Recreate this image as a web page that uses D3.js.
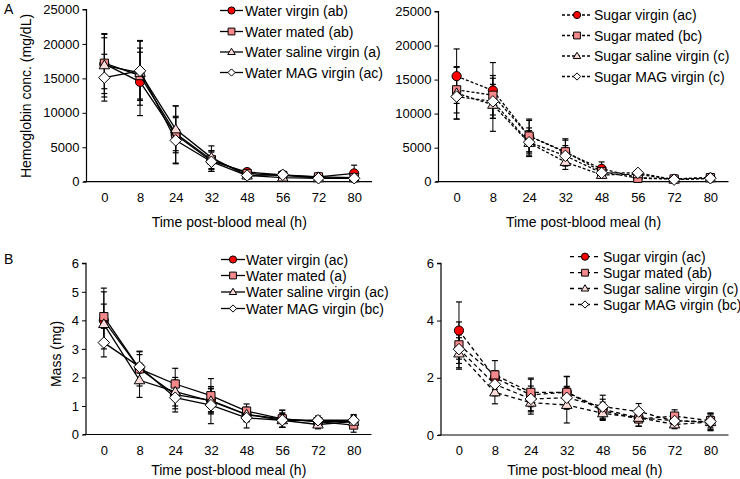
<!DOCTYPE html>
<html><head><meta charset="utf-8">
<script src="https://cdn.jsdelivr.net/npm/d3@7"></script>
<style>
body{margin:0;background:#fff;}
text{font-family:"Liberation Sans",Arial,sans-serif;fill:#000;}
</style></head>
<body><svg id="c" width="740" height="479"></svg>
<script>
// ---------- data ----------
const times = ["0","8","24","32","48","56","72","80"];
const hbTicks = [0,5000,10000,15000,20000,25000];
const massTicksLeft = [0,1,2,3,4,5,6];
const massTicksRight = [0,2,4,6];

const waterNames = ["Water virgin (ab)","Water mated (ab)","Water saline virgin (a)","Water MAG virgin (ac)"];
const sugarNames = ["Sugar virgin (ac)","Sugar mated (bc)","Sugar saline virgin (c)","Sugar MAG virgin (c)"];
const waterMassNames = ["Water virgin (ac)","Water mated (a)","Water saline virgin (ac)","Water MAG virgin (bc)"];
const sugarMassNames = ["Sugar virgin (ac)","Sugar mated (ab)","Sugar saline virgin (c)","Sugar MAG virgin (bc)"];

// Hemoglobin, water
const hbWaterVirgin    = [17100,14500,6800,3000,1400,1000,700,1200];
const hbWaterVirginErr = [4300,4900,4200,1500,400,300,300,1200];
const hbWaterMated     = [17200,15400,7000,3200,1200,900,700,600];
const hbWaterMatedErr  = [3700,3400,2500,1300,400,300,200,300];
const hbWaterSaline    = [16900,15800,7600,3500,900,600,500,500];
const hbWaterSalineErr = [4600,4700,3400,1700,500,300,200,300];
const hbWaterMAG       = [15100,16100,6000,2900,900,1000,500,500];
const hbWaterMAGErr    = [3400,4300,3300,1400,400,300,200,300];
// Hemoglobin, sugar
const hbSugarVirgin    = [15500,13400,6700,4300,1900,600,400,600];
const hbSugarVirginErr = [4000,4100,2500,1800,1000,300,200,300];
const hbSugarMated     = [13500,12700,6700,4400,1500,500,400,600];
const hbSugarMatedErr  = [3400,2900,2300,1900,600,300,200,300];
const hbSugarSaline    = [13000,11300,5700,2900,1000,1100,300,500];
const hbSugarSalineErr = [3800,3900,1800,1100,400,300,200,300];
const hbSugarMAG       = [12500,11800,5800,3800,1300,1300,300,500];
const hbSugarMAGErr    = [3300,2500,2100,1500,500,300,200,300];
// Mass, water
const mWaterVirgin    = [4.0,2.3,1.4,1.2,0.7,0.55,0.45,0.45];
const mWaterVirginErr = [1.0,0.5,0.5,0.4,0.25,0.3,0.15,0.2];
const mWaterMated     = [4.13,2.3,1.77,1.36,0.82,0.55,0.45,0.33];
const mWaterMatedErr  = [1.0,0.6,0.55,0.6,0.25,0.3,0.15,0.25];
const mWaterSaline    = [3.87,1.9,1.5,1.17,0.7,0.5,0.35,0.45];
const mWaterSalineErr = [0.7,0.6,0.5,0.45,0.25,0.25,0.15,0.2];
const mWaterMAG       = [3.22,2.37,1.29,1.03,0.58,0.5,0.5,0.5];
const mWaterMAGErr    = [0.5,0.55,0.5,0.65,0.35,0.25,0.15,0.2];
// Mass, sugar
const mSugarVirgin    = [3.65,2.0,1.4,1.5,0.9,0.6,0.5,0.45];
const mSugarVirginErr = [1.0,0.25,0.55,0.55,0.35,0.3,0.2,0.3];
const mSugarMated     = [3.15,2.1,1.49,1.49,0.85,0.56,0.66,0.5];
const mSugarMatedErr  = [0.8,0.5,0.5,0.55,0.3,0.25,0.22,0.25];
const mSugarSaline    = [2.85,1.49,1.13,1.05,0.76,0.6,0.37,0.45];
const mSugarSalineErr = [0.55,0.4,0.4,0.63,0.25,0.3,0.15,0.25];
const mSugarMAG       = [3.0,1.77,1.26,1.3,0.99,0.82,0.49,0.47];
const mSugarMAGErr    = [0.5,0.4,0.45,0.4,0.4,0.28,0.15,0.3];

const shapes = ["circle","square","triangle","diamond"];
const fills = ["#ff0000","#f4888a","#fbdada","#ffffff"];

// ---------- drawing ----------
const svg = d3.select("#c");

function shapePath(shape, s){
  if(shape==="circle"){ const p=d3.path(); p.arc(0,0,s,0,2*Math.PI); p.closePath(); return p.toString(); }
  if(shape==="square"){ return `M${-s},${-s}H${s}V${s}H${-s}Z`; }
  if(shape==="triangle"){ const h=s*1.75; return `M0,${-h*0.6}L${s*1.05},${h*0.4}L${-s*1.05},${h*0.4}Z`; }
  return `M0,${-s*1.25}L${s*1.25},0L0,${s*1.25}L${-s*1.25},0Z`;
}
const plotSize = {circle:4.6, square:4.1, triangle:5, diamond:4.6};
const legSize = {circle:3.6, square:3.4, triangle:3.6, diamond:2.9};

function panel(cfg){
  const g = svg.append("g");
  const x = d3.scalePoint().domain(times).range([cfg.xl, cfg.xr]).padding(0.5);
  const y = d3.scaleLinear().domain([0, cfg.ymax]).range([cfg.yb, cfg.yt]);

  // y axis
  const ya = d3.axisLeft(y).tickValues(cfg.yticks).tickSize(4).tickPadding(3).tickFormat(d3.format("d"));
  const yg = g.append("g").attr("transform",`translate(${cfg.xl},0)`).call(ya);
  yg.select(".domain").attr("stroke","#000").attr("stroke-width",1.2).attr("d",`M-4,${cfg.yt}H0V${cfg.yb}`);
  yg.selectAll("text").style("font-size","13px").attr("fill","#000");
  // x axis
  const xa = d3.axisBottom(x).tickSize(0).tickPadding(11);
  const xg = g.append("g").attr("transform",`translate(0,${cfg.yb})`).call(xa);
  xg.select(".domain").attr("stroke","#000").attr("stroke-width",1.2).attr("d",`M${cfg.xl-3},0H${cfg.xr}`);
  xg.selectAll("text").style("font-size","13px").attr("fill","#000");

  // titles
  g.append("text").attr("x",(cfg.xl+cfg.xr)/2).attr("y",cfg.yb+cfg.xtOff).attr("text-anchor","middle")
    .style("font-size","14px").text("Time post-blood meal (h)");
  if(cfg.ytitle){
    g.append("text").attr("transform",`translate(${cfg.ytx},${cfg.yty}) rotate(-90)`).attr("text-anchor","middle")
      .style("font-size","14px").text(cfg.ytitle);
  }

  // series
  const line = d3.line().x((d,i)=>x(times[i])).y(d=>y(d));
  cfg.series.forEach((s,si)=>{
    const sg = g.append("g");
    s.vals.forEach((v,i)=>{
      const cx = x(times[i]), lo=y(Math.max(0,v-s.errs[i])), hi=y(v+s.errs[i]);
      sg.append("line").attr("x1",cx).attr("x2",cx).attr("y1",lo).attr("y2",hi).attr("stroke","#000").attr("stroke-width",1);
      [lo,hi].forEach(yy=>sg.append("line").attr("x1",cx-3).attr("x2",cx+3).attr("y1",yy).attr("y2",yy).attr("stroke","#000").attr("stroke-width",1.2));
    });
  });
  cfg.series.forEach((s,si)=>{
    const sg = g.append("g");
    sg.append("path").attr("d",line(s.vals)).attr("fill","none").attr("stroke","#000")
      .attr("stroke-width",1.3).attr("stroke-dasharray",cfg.dash||null);
    s.vals.forEach((v,i)=>{
      sg.append("path").attr("d",shapePath(shapes[si],plotSize[shapes[si]]))
        .attr("transform",`translate(${x(times[i])},${y(v)})`)
        .attr("fill",fills[si]).attr("stroke","#000").attr("stroke-width",1);
    });
  });

  // legend
  const L = cfg.legend;
  cfg.series.forEach((s,si)=>{
    const ry = L.rows[si];
    g.append("line").attr("x1",L.x0).attr("x2",L.x1).attr("y1",ry).attr("y2",ry)
      .attr("stroke","#000").attr("stroke-width",1.3).attr("stroke-dasharray",cfg.legDash||null);
    g.append("path").attr("d",shapePath(shapes[si],legSize[shapes[si]]))
      .attr("transform",`translate(${L.mx},${ry})`).attr("fill",fills[si]).attr("stroke","#000").attr("stroke-width",1);
    g.append("text").attr("x",L.tx).attr("y",ry).attr("dy","0.36em").style("font-size","14px").text(s.name);
  });
}

const mk = (names, arrs)=>names.map((n,i)=>({name:n, vals:arrs[i][0], errs:arrs[i][1]}));

panel({xl:86.5, xr:372, yb:181.7, yt:9.5, ymax:25000, yticks:hbTicks, xtOff:45,
  ytitle:"Hemoglobin conc. (mg/dL)", ytx:31, yty:96,
  series: mk(waterNames,[[hbWaterVirgin,hbWaterVirginErr],[hbWaterMated,hbWaterMatedErr],[hbWaterSaline,hbWaterSalineErr],[hbWaterMAG,hbWaterMAGErr]]),
  legend:{x0:220,x1:243,mx:231.5,tx:245,rows:[10.5,31.5,52,72.5]}});

panel({xl:438.5, xr:728.5, yb:181.7, yt:11.5, ymax:25000, yticks:hbTicks, xtOff:45,
  dash:"3,2", legDash:"3,2",
  series: mk(sugarNames,[[hbSugarVirgin,hbSugarVirginErr],[hbSugarMated,hbSugarMatedErr],[hbSugarSaline,hbSugarSalineErr],[hbSugarMAG,hbSugarMAGErr]]),
  legend:{x0:562,x1:592,mx:577,tx:594,rows:[15,35.5,56,76.5]}});

panel({xl:86, xr:371.5, yb:434.5, yt:263.3, ymax:6, yticks:massTicksLeft, xtOff:40,
  ytitle:"Mass (mg)", ytx:61, yty:354,
  series: mk(waterMassNames,[[mWaterVirgin,mWaterVirginErr],[mWaterMated,mWaterMatedErr],[mWaterSaline,mWaterSalineErr],[mWaterMAG,mWaterMAGErr]]),
  legend:{x0:221,x1:245,mx:233,tx:246,rows:[259.5,275.5,292,308.5]}});

panel({xl:441, xr:728.5, yb:435, yt:263.3, ymax:6, yticks:massTicksRight, xtOff:40,
  dash:"4,3", legDash:"4,4",
  series: mk(sugarMassNames,[[mSugarVirgin,mSugarVirginErr],[mSugarMated,mSugarMatedErr],[mSugarSaline,mSugarSalineErr],[mSugarMAG,mSugarMAGErr]]),
  legend:{x0:570,x1:600,mx:585,tx:603,rows:[256.7,272.7,288.5,304.5]}});

svg.append("text").attr("x",4).attr("y",14).style("font-size","14px").text("A");
svg.append("text").attr("x",4).attr("y",264).style("font-size","14px").text("B");
</script>
</body></html>
